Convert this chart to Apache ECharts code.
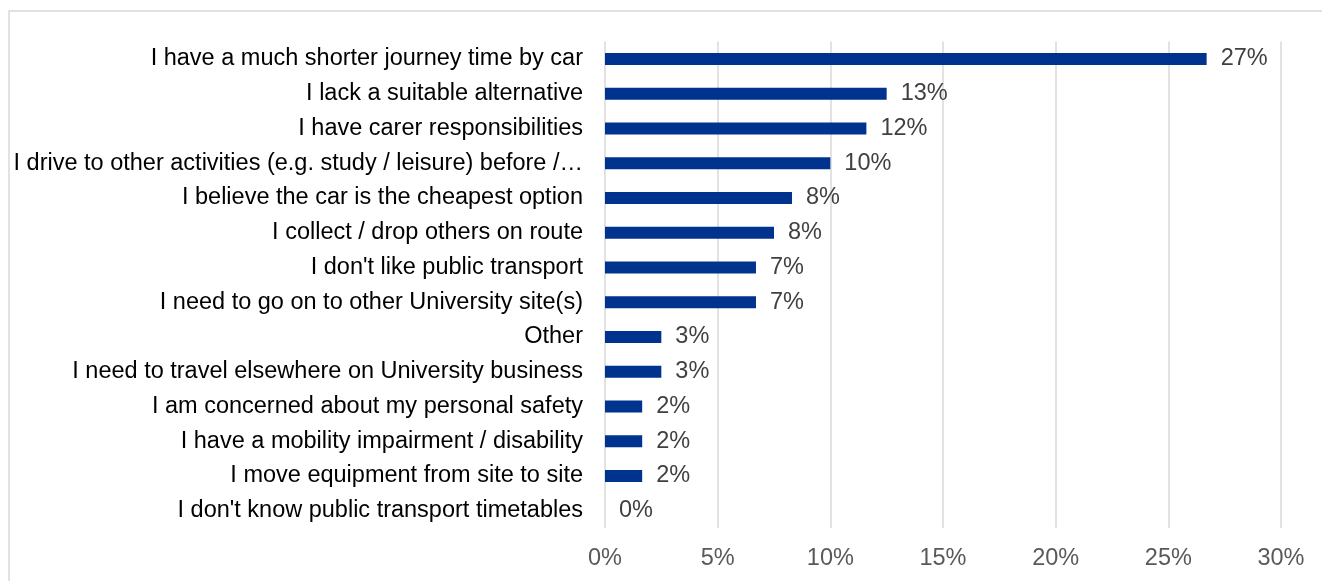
<!DOCTYPE html>
<html>
<head>
<meta charset="utf-8">
<script src="https://cdn.jsdelivr.net/npm/echarts@6/dist/echarts.min.js"></script>
<style>
html,body{margin:0;padding:0;background:#fff;}
#chart{width:1322px;height:581px;}
</style>
</head>
<body>
<div id="chart"></div>
<script>
const categories = [
  "I have a much shorter journey time by car",
  "I lack a suitable alternative",
  "I have carer responsibilities",
  "I drive to other activities (e.g. study / leisure) before /\u2026",
  "I believe the car is the cheapest option",
  "I collect / drop others on route",
  "I don't like public transport",
  "I need to go on to other University site(s)",
  "Other",
  "I need to travel elsewhere on University business",
  "I am concerned about my personal safety",
  "I have a mobility impairment / disability",
  "I move equipment from site to site",
  "I don't know public transport timetables"
];
const values = [26.7, 12.5, 11.6, 10.0, 8.3, 7.5, 6.7, 6.7, 2.5, 2.5, 1.65, 1.65, 1.65, 0];
const xTicks = [0, 5, 10, 15, 20, 25, 30];

const chart = echarts.init(document.getElementById('chart'), null, {renderer: 'canvas'});
const FONT = 'Liberation Sans, Arial, sans-serif';
chart.setOption({
  animation: false,
  backgroundColor: '#fff',
  graphic: [{
    type: 'rect',
    shape: {x: 9, y: 11, width: 1400, height: 700},
    style: {fill: 'none', stroke: '#d9d9d9', lineWidth: 1.5},
    silent: true
  }],
  grid: {left: 605, right: 41, top: 41.5, bottom: 53, containLabel: false},
  xAxis: {
    type: 'value',
    min: xTicks[0],
    max: xTicks[xTicks.length - 1],
    interval: 5,
    axisLine: {show: false},
    axisTick: {show: false},
    splitLine: {show: true, lineStyle: {color: '#d9d9d9', width: 1.5}},
    axisLabel: {
      color: '#595959', fontSize: 23.5, fontFamily: FONT, margin: 19,
      formatter: v => v + '%'
    }
  },
  yAxis: {
    type: 'category',
    data: categories,
    inverse: true,
    axisLine: {show: false},
    axisTick: {show: false},
    splitLine: {show: false},
    axisLabel: {color: '#000', fontSize: 23.5, fontFamily: FONT, margin: 22}
  },
  series: [{
    type: 'bar',
    data: values,
    barWidth: 12,
    itemStyle: {color: '#00338D'},
    label: {
      show: true,
      position: 'right',
      distance: 14,
      color: '#404040',
      fontSize: 23.5,
      fontFamily: FONT,
      formatter: p => Math.round(p.value) + '%'
    }
  }]
});
</script>
</body>
</html>
